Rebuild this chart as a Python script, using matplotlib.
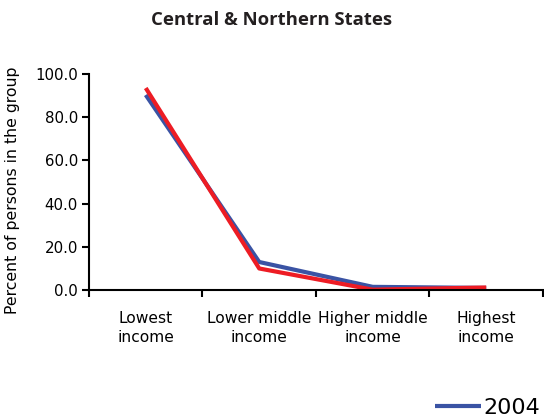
import numpy as np
import matplotlib.pyplot as plt

# Data -----------------------------------------------------------------
categories = ['Lowest\nincome', 'Lower middle\nincome', 'Higher middle\nincome', 'Highest\nincome']
pct_2004 = [90.3, 13.0, 1.5, 1.0]
pct_2008 = [93.5, 10.0, 0.2, 1.2]

blue = '#3a53a4'
red = '#ed1c24'

fig = plt.figure(figsize=(5.44, 4.18), dpi=100)
ax = fig.add_axes([0.1636, 0.306, 0.8345, 0.517])

x = np.arange(len(categories))
ax.plot(x, pct_2004, color=blue, lw=3, label='2004', solid_capstyle='butt')
ax.plot(x, pct_2008, color=red, lw=3, solid_capstyle='butt')

ax.set_xlim(-0.5, len(categories) - 0.5)
ax.set_ylim(0, 100)
ax.set_yticks(np.arange(0, 101, 20))
ax.set_yticklabels(['{:.1f}'.format(v) for v in np.arange(0, 101, 20)], fontsize=10.8)

# ticks at category boundaries, labels at centres
ax.set_xticks(np.arange(-0.5, len(categories), 1.0))
ax.set_xticklabels([])
ax.set_xticks(x, minor=True)
ax.set_xticklabels(categories, minor=True, fontsize=11.2, linespacing=1.3)
ax.tick_params(axis='x', which='minor', length=0, pad=15)
ax.tick_params(axis='both', which='major', length=5, width=1.5, direction='out', colors='black')
ax.tick_params(axis='y', pad=3)

for s in ['top', 'right']:
    ax.spines[s].set_visible(False)
for s in ['left', 'bottom']:
    ax.spines[s].set_linewidth(1.5)
    ax.spines[s].set_clip_on(False)

ax.set_ylabel('Percent of persons in the group', fontsize=11.3)
ax.yaxis.set_label_coords(-0.152, 0.463)

fig.text(0.5, 0.952, 'Central & Northern States', ha='center', va='center',
         fontsize=13.3, fontweight='bold', family='Open Sans', color='#231f20')

handles, labels = ax.get_legend_handles_labels()
fig.legend(handles, labels, loc='center left', bbox_to_anchor=(0.80, 0.025),
           frameon=False, fontsize=16, handlelength=2.05, handletextpad=0.1,
           borderpad=0, borderaxespad=0)

fig.savefig('out.png', dpi=100)
